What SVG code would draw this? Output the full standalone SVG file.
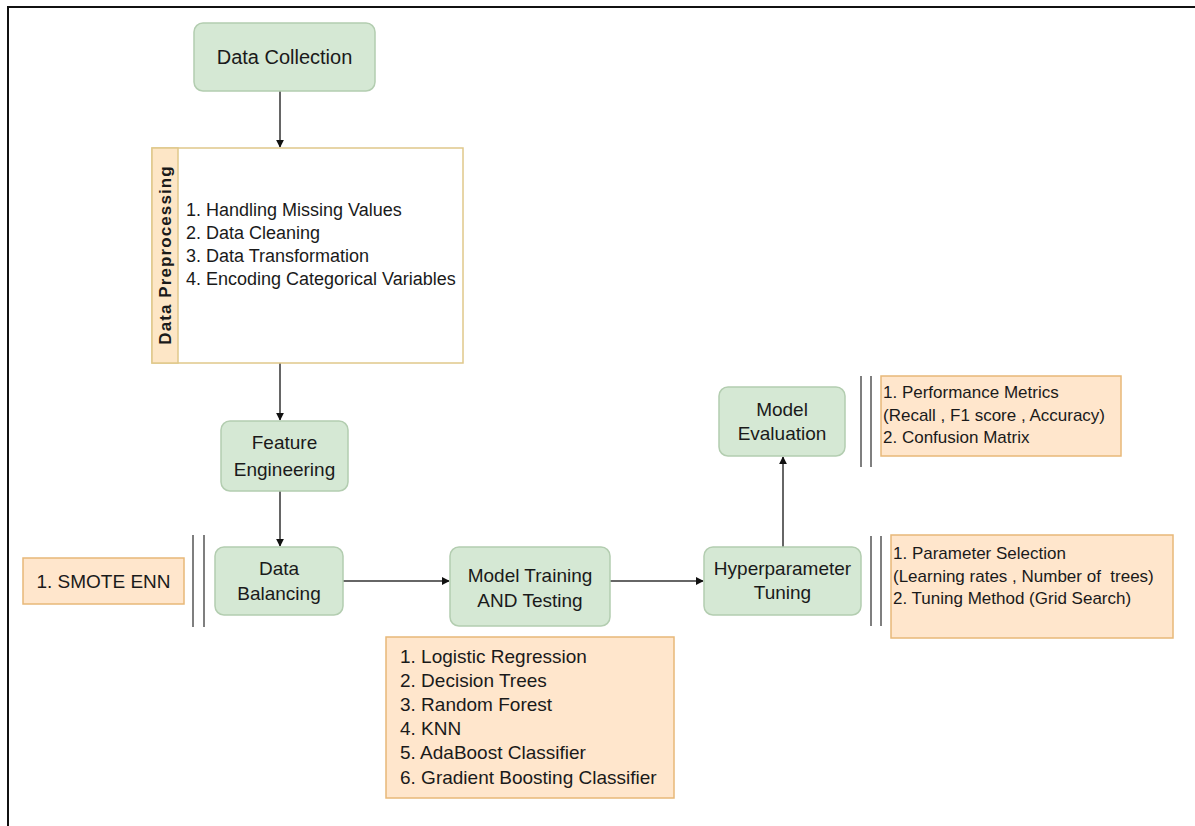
<svg xmlns="http://www.w3.org/2000/svg" width="1195" height="826" viewBox="0 0 1195 826">
<defs>
<marker id="ah" viewBox="0 0 10 10" refX="9" refY="5" markerWidth="8" markerHeight="8" markerUnits="userSpaceOnUse" orient="auto">
<path d="M0,0 L10,5 L0,10 z" fill="#111"/>
</marker>
<style>
text{font-family:"Liberation Sans",Arial,sans-serif;fill:#1a1a1a}
.g{fill:#d5e8d4;stroke:#b3cdb0;stroke-width:1.5}
.o{fill:#ffe6cc;stroke:#e8b878;stroke-width:1.5}
.c{stroke:#333;stroke-width:1.5;fill:none;marker-end:url(#ah)}
.dl{stroke:#555;stroke-width:1.5}
.t19{font-size:19px;text-anchor:middle}
.l{font-size:18px}
.s{font-size:17px}
.m{font-size:19px}
</style>
</defs>
<rect width="1195" height="826" fill="#fff"/>
<path d="M8,826 V7 H1195" fill="none" stroke="#111" stroke-width="2"/>

<g id="connectors">
<line class="c" x1="280" y1="91" x2="280" y2="147"/>
<line class="c" x1="280" y1="363" x2="280" y2="420"/>
<line class="c" x1="280" y1="491" x2="280" y2="546"/>
<line class="c" x1="343" y1="581" x2="449" y2="581"/>
<line class="c" x1="610" y1="581" x2="703" y2="581"/>
<line class="c" x1="783" y1="547" x2="783" y2="457"/>
</g>

<g id="data-collection">
<rect class="g" x="194" y="23" width="181" height="68" rx="9"/>
<text x="284.5" y="64" font-size="20" text-anchor="middle">Data Collection</text>
</g>

<g id="data-preprocessing">
<rect x="152" y="148" width="311" height="215" fill="#fff" stroke="#e0c88a" stroke-width="1.5"/>
<rect x="152" y="148" width="26" height="215" fill="#fde6c6" stroke="#e0c88a" stroke-width="1.5"/>
<text transform="translate(171,255) rotate(-90)" font-size="17" font-weight="bold" letter-spacing="1.1" text-anchor="middle">Data Preprocessing</text>
<text class="l" x="186" y="216">1. Handling Missing Values</text>
<text class="l" x="186" y="239">2. Data Cleaning</text>
<text class="l" x="186" y="262">3. Data Transformation</text>
<text class="l" x="186" y="285">4. Encoding Categorical Variables</text>
</g>

<g id="feature-engineering">
<rect class="g" x="221" y="421" width="127" height="70" rx="9"/>
<text class="t19" x="284.5" y="449">Feature</text>
<text class="t19" x="284.5" y="476">Engineering</text>
</g>

<g id="data-balancing">
<rect class="g" x="215" y="547" width="128" height="68" rx="9"/>
<text class="t19" x="279" y="575">Data</text>
<text class="t19" x="279" y="600">Balancing</text>
</g>

<g id="smote-enn">
<rect class="o" x="23" y="558" width="161" height="46"/>
<text class="t19" x="103.5" y="588">1. SMOTE ENN</text>
<line class="dl" x1="193" y1="535" x2="193" y2="627"/>
<line class="dl" x1="204" y1="535" x2="204" y2="627"/>
</g>

<g id="model-training">
<rect class="g" x="450" y="547" width="160" height="79" rx="9"/>
<text class="t19" x="530" y="582">Model Training</text>
<text class="t19" x="530" y="607">AND Testing</text>
</g>

<g id="models-list">
<rect class="o" x="386" y="637" width="288" height="161"/>
<text class="m" x="400" y="663">1. Logistic Regression</text>
<text class="m" x="400" y="687">2. Decision Trees</text>
<text class="m" x="400" y="711">3. Random Forest</text>
<text class="m" x="400" y="735">4. KNN</text>
<text class="m" x="400" y="759">5. AdaBoost Classifier</text>
<text class="m" x="400" y="784">6. Gradient Boosting Classifier</text>
</g>

<g id="hyperparameter-tuning">
<rect class="g" x="704" y="547" width="157" height="68" rx="9"/>
<text class="t19" x="782.5" y="575">Hyperparameter</text>
<text class="t19" x="782.5" y="599">Tuning</text>
</g>

<g id="tuning-notes">
<line class="dl" x1="871" y1="536" x2="871" y2="626"/>
<line class="dl" x1="881" y1="536" x2="881" y2="626"/>
<rect class="o" x="891" y="535" width="282" height="103"/>
<text class="s" x="893" y="559">1. Parameter Selection</text>
<text class="s" x="893" y="582" xml:space="preserve">(Learning rates , Number of  trees)</text>
<text class="s" x="893" y="604">2. Tuning Method (Grid Search)</text>
</g>

<g id="model-evaluation">
<rect class="g" x="719" y="387" width="126" height="69" rx="9"/>
<text class="t19" x="782" y="416">Model</text>
<text class="t19" x="782" y="440">Evaluation</text>
</g>

<g id="evaluation-notes">
<line class="dl" x1="861" y1="376" x2="861" y2="467"/>
<line class="dl" x1="871" y1="376" x2="871" y2="467"/>
<rect class="o" x="881" y="376" width="240" height="80"/>
<text class="s" x="883" y="398">1. Performance Metrics</text>
<text class="s" x="883" y="421">(Recall , F1 score , Accuracy)</text>
<text class="s" x="883" y="443">2. Confusion Matrix</text>
</g>
</svg>
